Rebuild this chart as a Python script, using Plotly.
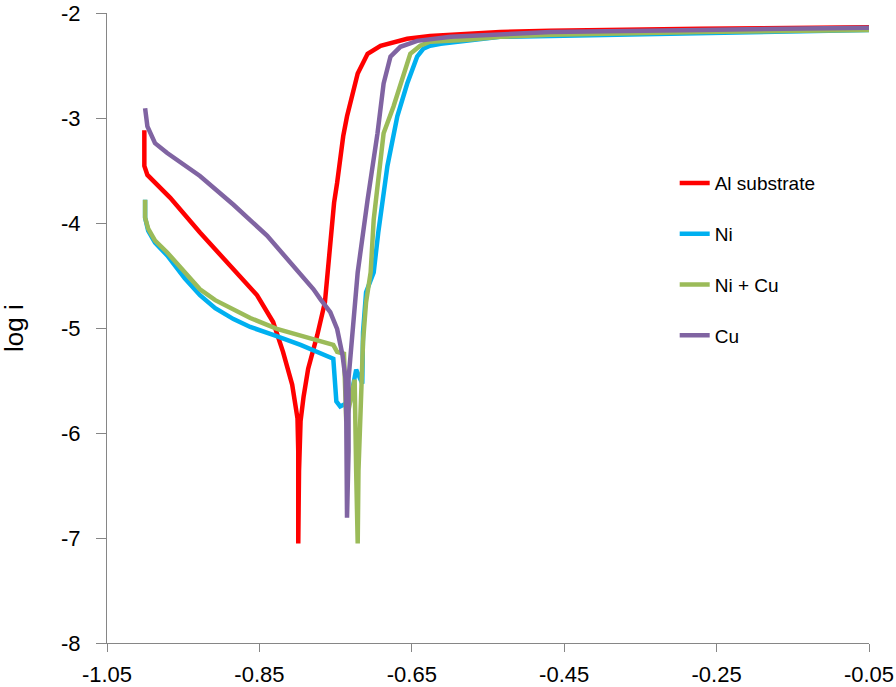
import plotly.graph_objects as go

# Potential (V) and log i for each coating
al_E = [-1.001, -1.001, -1.001, -0.997, -0.990, -0.967, -0.928, -0.884, -0.869, -0.853,
        -0.832, -0.819, -0.807, -0.800, -0.799, -0.799, -0.798, -0.796, -0.792,
        -0.786, -0.774, -0.764, -0.760, -0.757, -0.752, -0.748, -0.744, -0.740, -0.735,
        -0.731, -0.727, -0.721, -0.708, -0.691, -0.656, -0.626, -0.534, -0.468, -0.271, -0.05]
al_logi = [-3.117, -3.334, -3.457, -3.542, -3.590, -3.760, -4.091, -4.441, -4.565, -4.688,
           -4.943, -5.227, -5.539, -5.861, -6.173, -7.053, -6.362, -5.889, -5.653,
           -5.388, -5.066, -4.754, -4.441, -4.158, -3.807, -3.618, -3.401, -3.173, -2.984,
           -2.861, -2.738, -2.577, -2.388, -2.312, -2.246, -2.218, -2.180, -2.170, -2.151, -2.135]

ni_E = [-1.000, -1.000, -0.996, -0.987, -0.971, -0.948, -0.928, -0.908, -0.884, -0.862,
        -0.832, -0.796, -0.753, -0.749, -0.744, -0.731, -0.723, -0.715, -0.714, -0.710,
        -0.700, -0.694, -0.682, -0.669, -0.656, -0.643, -0.635, -0.626, -0.612, -0.577,
        -0.534, -0.468, -0.271, -0.05]
ni_logi = [-3.779, -3.949, -4.072, -4.186, -4.309, -4.527, -4.688, -4.811, -4.915, -4.990,
           -5.066, -5.161, -5.293, -5.700, -5.747, -5.700, -5.397, -5.530, -5.038, -4.659,
           -4.470, -4.091, -3.457, -2.984, -2.672, -2.416, -2.341, -2.312, -2.293, -2.265,
           -2.227, -2.218, -2.189, -2.161]

nicu_E = [-1.000, -1.000, -0.996, -0.987, -0.971, -0.948, -0.928, -0.908, -0.884, -0.862,
          -0.827, -0.779, -0.753, -0.748, -0.739, -0.736, -0.731, -0.725, -0.723, -0.721,
          -0.720, -0.717, -0.714, -0.710, -0.704, -0.700, -0.691, -0.687, -0.674, -0.661,
          -0.652, -0.639, -0.626, -0.577, -0.534, -0.468, -0.271, -0.05]
nicu_logi = [-3.779, -3.949, -4.053, -4.167, -4.281, -4.470, -4.631, -4.735, -4.820, -4.905,
             -5.009, -5.104, -5.161, -5.227, -5.246, -5.889, -5.700, -5.492, -6.362, -7.053,
             -6.362, -5.605, -5.132, -4.754, -4.470, -3.968, -3.401, -3.145, -2.890, -2.577,
             -2.388, -2.312, -2.274, -2.255, -2.227, -2.208, -2.180, -2.161]

cu_E = [-1.000, -0.997, -0.987, -0.971, -0.928, -0.884, -0.840, -0.806, -0.779, -0.770,
        -0.757, -0.748, -0.741, -0.737, -0.736, -0.735, -0.733, -0.733, -0.728, -0.724,
        -0.721, -0.708, -0.695, -0.687, -0.678, -0.665, -0.643, -0.599, -0.534, -0.468,
        -0.271, -0.05]
cu_logi = [-2.908, -3.079, -3.240, -3.334, -3.552, -3.826, -4.120, -4.404, -4.631, -4.725,
           -4.848, -5.009, -5.255, -5.482, -5.861, -6.807, -6.173, -5.482, -5.009, -4.631,
           -4.470, -3.779, -3.145, -2.672, -2.416, -2.322, -2.265, -2.227, -2.199, -2.180,
           -2.161, -2.140]

series_names = ["Al substrate", "Ni", "Ni + Cu", "Cu"]
series_colors = ["#FF0000", "#00B0F0", "#9BBB59", "#8064A2"]
x_ticks = [-1.05, -0.85, -0.65, -0.45, -0.25, -0.05]
x_tick_labels = ["-1.05", "-0.85", "-0.65", "-0.45", "-0.25", "-0.05"]
y_ticks = [-8, -7, -6, -5, -4, -3, -2]
y_tick_labels = ["-8", "-7", "-6", "-5", "-4", "-3", "-2"]

data = [(al_E, al_logi), (ni_E, ni_logi), (nicu_E, nicu_logi), (cu_E, cu_logi)]

fig = go.Figure()
for (xs, ys), name, color in zip(data, series_names, series_colors):
    fig.add_trace(go.Scatter(x=xs, y=ys, mode="lines", name=name, legendgroup=name,
                             line=dict(color=color, width=4.5)))

tick_font = dict(family="Liberation Sans, Arial, sans-serif", size=22, color="#000000")

fig.update_layout(
    width=896, height=687,
    margin=dict(l=107, r=27, t=13, b=44, autoexpand=False),
    plot_bgcolor="white", paper_bgcolor="white",
    showlegend=True,
    legend=dict(x=0.745, y=0.760, xanchor="left", yanchor="top",
                traceorder="grouped", tracegroupgap=23,
                font=dict(family="Liberation Sans, Arial, sans-serif", size=19, color="#000000"),
                bgcolor="rgba(0,0,0,0)"),
    xaxis=dict(range=[-1.05, -0.05], tickmode="array", tickvals=x_ticks, ticktext=x_tick_labels,
               showgrid=False, zeroline=False, showline=True, linecolor="#868686", linewidth=1,
               ticks="outside", ticklen=8, tickcolor="#868686", tickfont=tick_font,
               ticklabelstandoff=4, ticklabeloverflow="allow", automargin=False),
    yaxis=dict(range=[-8, -2], tickmode="array", tickvals=y_ticks, ticktext=y_tick_labels,
               showgrid=False, zeroline=False, showline=True, linecolor="#868686", linewidth=1,
               ticks="outside", ticklen=10, tickcolor="#868686", tickfont=tick_font,
               ticklabelstandoff=11, ticklabeloverflow="allow", automargin=False),
    annotations=[dict(text="log i", xref="paper", yref="paper", x=(14 - 107) / 762, y=0.5,
                      xanchor="center", yanchor="middle", textangle=-90, showarrow=False,
                      font=dict(family="Liberation Sans, Arial, sans-serif", size=26, color="#000000"))],
)

fig.write_html("out.html", config={"displayModeBar": False},
               post_script="document.body.style.margin='0';")
